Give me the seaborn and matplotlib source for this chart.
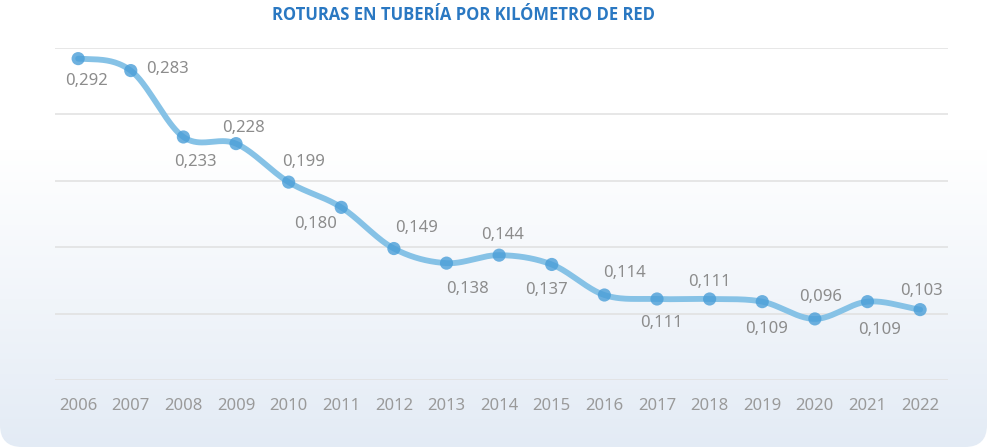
import numpy as np
import pandas as pd
import matplotlib
matplotlib.use("Agg")
import matplotlib.pyplot as plt
import seaborn as sns
from matplotlib.patches import FancyBboxPatch

years = [2006, 2007, 2008, 2009, 2010, 2011, 2012, 2013, 2014, 2015, 2016,
         2017, 2018, 2019, 2020, 2021, 2022]
values = [0.292, 0.283, 0.233, 0.228, 0.199, 0.180, 0.149, 0.138, 0.144, 0.137,
          0.114, 0.111, 0.111, 0.109, 0.096, 0.109, 0.103]
value_labels = ["0,292", "0,283", "0,233", "0,228", "0,199", "0,180", "0,149", "0,138",
                "0,144", "0,137", "0,114", "0,111", "0,111", "0,109", "0,096", "0,109", "0,103"]
title = "ROTURAS EN TUBERÍA POR KILÓMETRO DE RED"

# label offsets (pixels): layout only
offsets = [(8, -22), (37, 2), (12, -25), (7, 16), (15, 20), (-26, -17), (23, 21), (21, -26),
           (3, 20), (-5, -26), (20, 22), (4, -24), (0, 17), (4, -27), (6, 22), (12, -28), (1, 19)]

sns.set_theme(style="white")
plt.rcParams['font.family'] = ['Noto Sans', 'DejaVu Sans']

fig = plt.figure(figsize=(9.9, 4.48), dpi=100)

# background with gradient and rounded corners
bg = fig.add_axes([0, 0, 1, 1], zorder=-10)
bg.set_xlim(0, 990)
bg.set_ylim(448, 0)
bg.axis("off")
grad = np.ones((448, 1, 3))
t = np.clip((np.arange(448) - 150) / 298.0, 0, 1)[:, None]
top = np.array([1.0, 1.0, 1.0])
bot = np.array([0xe3, 0xeb, 0xf5]) / 255.0
grad[:, 0, :] = top * (1 - t) + bot * t
im = bg.imshow(grad, extent=[0, 990, 448, 0], aspect="auto", interpolation="bilinear")
patch = FancyBboxPatch((0, -40), 987, 487, boxstyle="round,pad=0,rounding_size=22",
                       transform=bg.transData, facecolor="none", edgecolor="none")
bg.add_patch(patch)
im.set_clip_path(patch)

ax = fig.add_axes([55 / 990, (448 - 380) / 448, 893 / 990, 332 / 448])
ax.set_facecolor("none")

# smooth curve (cubic Hermite / Catmull-Rom through the data points)
x = np.array(years, dtype=float)
y = np.array(values)
m = np.zeros_like(y)
m[1:-1] = (y[2:] - y[:-2]) / (x[2:] - x[:-2])
m[0] = (y[1] - y[0]) / (x[1] - x[0]) * 0.3
m[-1] = (y[-1] - y[-2]) / (x[-1] - x[-2])
xs, ys = [], []
for i in range(len(x) - 1):
    s = np.linspace(0, 1, 40, endpoint=False)
    h = x[i + 1] - x[i]
    h00 = 2 * s**3 - 3 * s**2 + 1
    h10 = s**3 - 2 * s**2 + s
    h01 = -2 * s**3 + 3 * s**2
    h11 = s**3 - s**2
    xs.append(x[i] + s * h)
    ys.append(h00 * y[i] + h10 * h * m[i] + h01 * y[i + 1] + h11 * h * m[i + 1])
xs.append([x[-1]])
ys.append([y[-1]])
curve = pd.DataFrame({"x": np.concatenate(xs), "y": np.concatenate(ys)})
df = pd.DataFrame({"year": years, "value": values})

sns.lineplot(data=curve, x="x", y="y", ax=ax, color="#86c2e6", linewidth=4.2,
             sort=False, zorder=3)
sns.scatterplot(data=df, x="year", y="value", ax=ax, color="#4a9ed8", s=90,
                edgecolor="none", alpha=0.8, zorder=4)

for xi, yi, lab, (dx, dy) in zip(years, values, value_labels, offsets):
    ax.annotate(lab, (xi, yi), xytext=(dx, dy), textcoords="offset pixels",
                ha="center", va="center", fontsize=12, color="#8c8c8c", zorder=5)

ax.set_xlim(2005.56, 2022.53)
ax.set_ylim(0.05, 0.30)
ax.set_yticks([0.05, 0.10, 0.15, 0.20, 0.25, 0.30])
ax.set_yticklabels([])
ax.grid(axis="y", color="#e0e0e0", linewidth=1.1)
ax.set_xticks(years)
ax.set_xticklabels([str(v) for v in years])
ax.tick_params(axis="x", length=0, pad=13, labelsize=12, labelcolor="#9a9a9a")
ax.tick_params(axis="y", length=0)
ax.set_xlabel("")
ax.set_ylabel("")
for sp in ax.spines.values():
    sp.set_visible(False)

fig.text(463 / 990, 1 - 15 / 448, title, ha="center", va="center", fontsize=12,
         fontweight="bold", color="#2a78c2", family=["Open Sans", "DejaVu Sans"])

fig.savefig("out.png", dpi=100)
